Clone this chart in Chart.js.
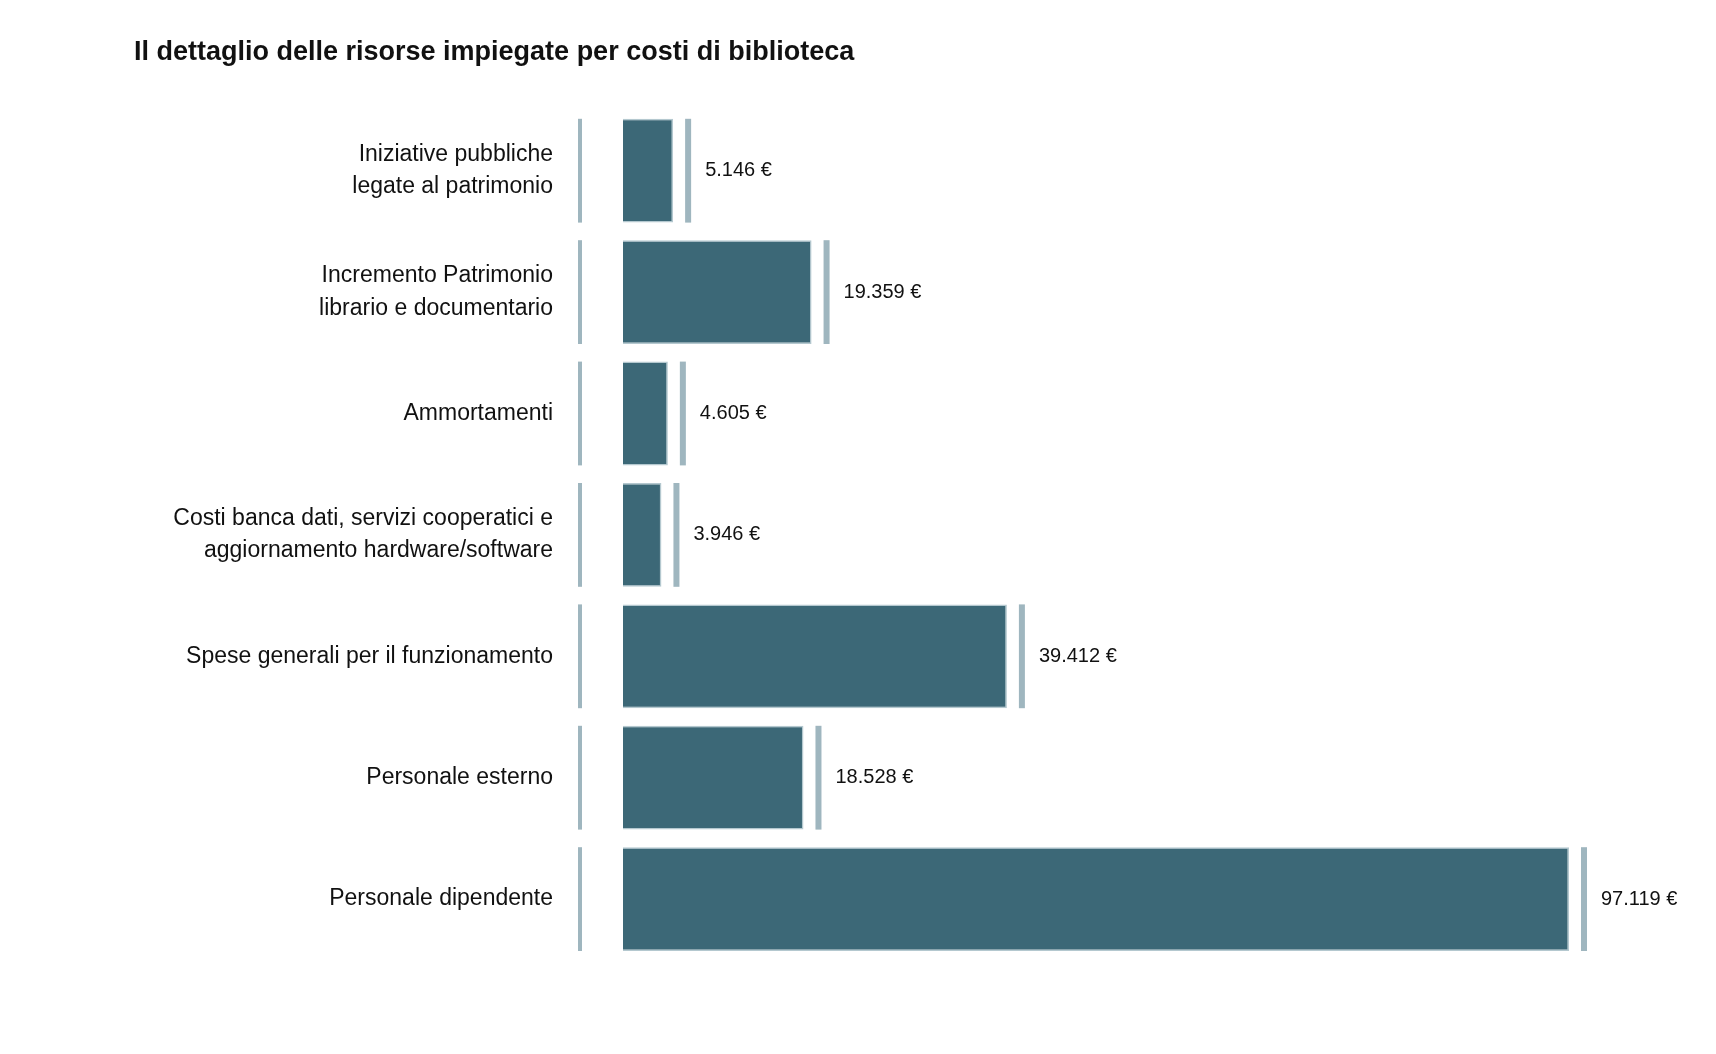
<!DOCTYPE html>
<html><head><meta charset="utf-8">
<script src="https://cdn.jsdelivr.net/npm/chart.js@4"></script>
<style>html,body{margin:0;background:#fff}#c{display:block}</style>
</head><body>
<canvas id="c" width="1716" height="1054"></canvas>
<script>
const titolo = 'Il dettaglio delle risorse impiegate per costi di biblioteca';
const categorie = [
  ['Iniziative pubbliche', 'legate al patrimonio'],
  ['Incremento Patrimonio', 'librario e documentario'],
  'Ammortamenti',
  ['Costi banca dati, servizi cooperatici e', 'aggiornamento hardware/software'],
  'Spese generali per il funzionamento',
  'Personale esterno',
  'Personale dipendente'
];
const valori = [5146, 19359, 4605, 3946, 39412, 18528, 97119];
const etichette = ['5.146 €', '19.359 €', '4.605 €', '3.946 €', '39.412 €', '18.528 €', '97.119 €'];

const FONT = '"Liberation Sans", Arial, sans-serif';
const lineColor = '#9fb6bf';

const extra = {
  id: 'extra',
  afterDatasetsDraw(chart) {
    const ctx = chart.ctx;
    const meta = chart.getDatasetMeta(0);
    ctx.save();
    ctx.fillStyle = '#111';
    ctx.font = 'bold 27px ' + FONT;
    ctx.textBaseline = 'alphabetic';
    ctx.fillText(titolo, 134, 60);
    meta.data.forEach((bar, i) => {
      const h = bar.height;
      const top = bar.y - h / 2;
      ctx.fillStyle = lineColor;
      ctx.fillRect(578, top, 4, h);
      ctx.fillRect(bar.x + 12, top, 6, h);
      ctx.fillStyle = '#111';
      ctx.font = '20px ' + FONT;
      ctx.textBaseline = 'middle';
      ctx.fillText(etichette[i], bar.x + 32, bar.y);
    });
    ctx.restore();
  }
};

new Chart(document.getElementById('c'), {
  type: 'bar',
  data: { labels: categorie, datasets: [{ data: valori, backgroundColor: '#3c6877', borderColor: '#b4c8cf', borderWidth: 1.5, barPercentage: 0.9, categoryPercentage: 0.95 }] },
  options: {
    indexAxis: 'y', responsive: false, animation: false,
    layout: { padding: { top: 110, bottom: -10, right: 147, left: 0 } },
    plugins: { legend: { display: false }, tooltip: { enabled: false } },
    scales: {
      x: { min: 0, max: 97119, display: false },
      y: {
        grid: { display: false }, border: { display: false },
        afterFit: s => { s.width = 623; },
        ticks: { color: '#111', font: { family: FONT, size: 23, lineHeight: 1.4 }, padding: 62 }
      }
    }
  },
  plugins: [extra]
});
</script>
</body></html>
